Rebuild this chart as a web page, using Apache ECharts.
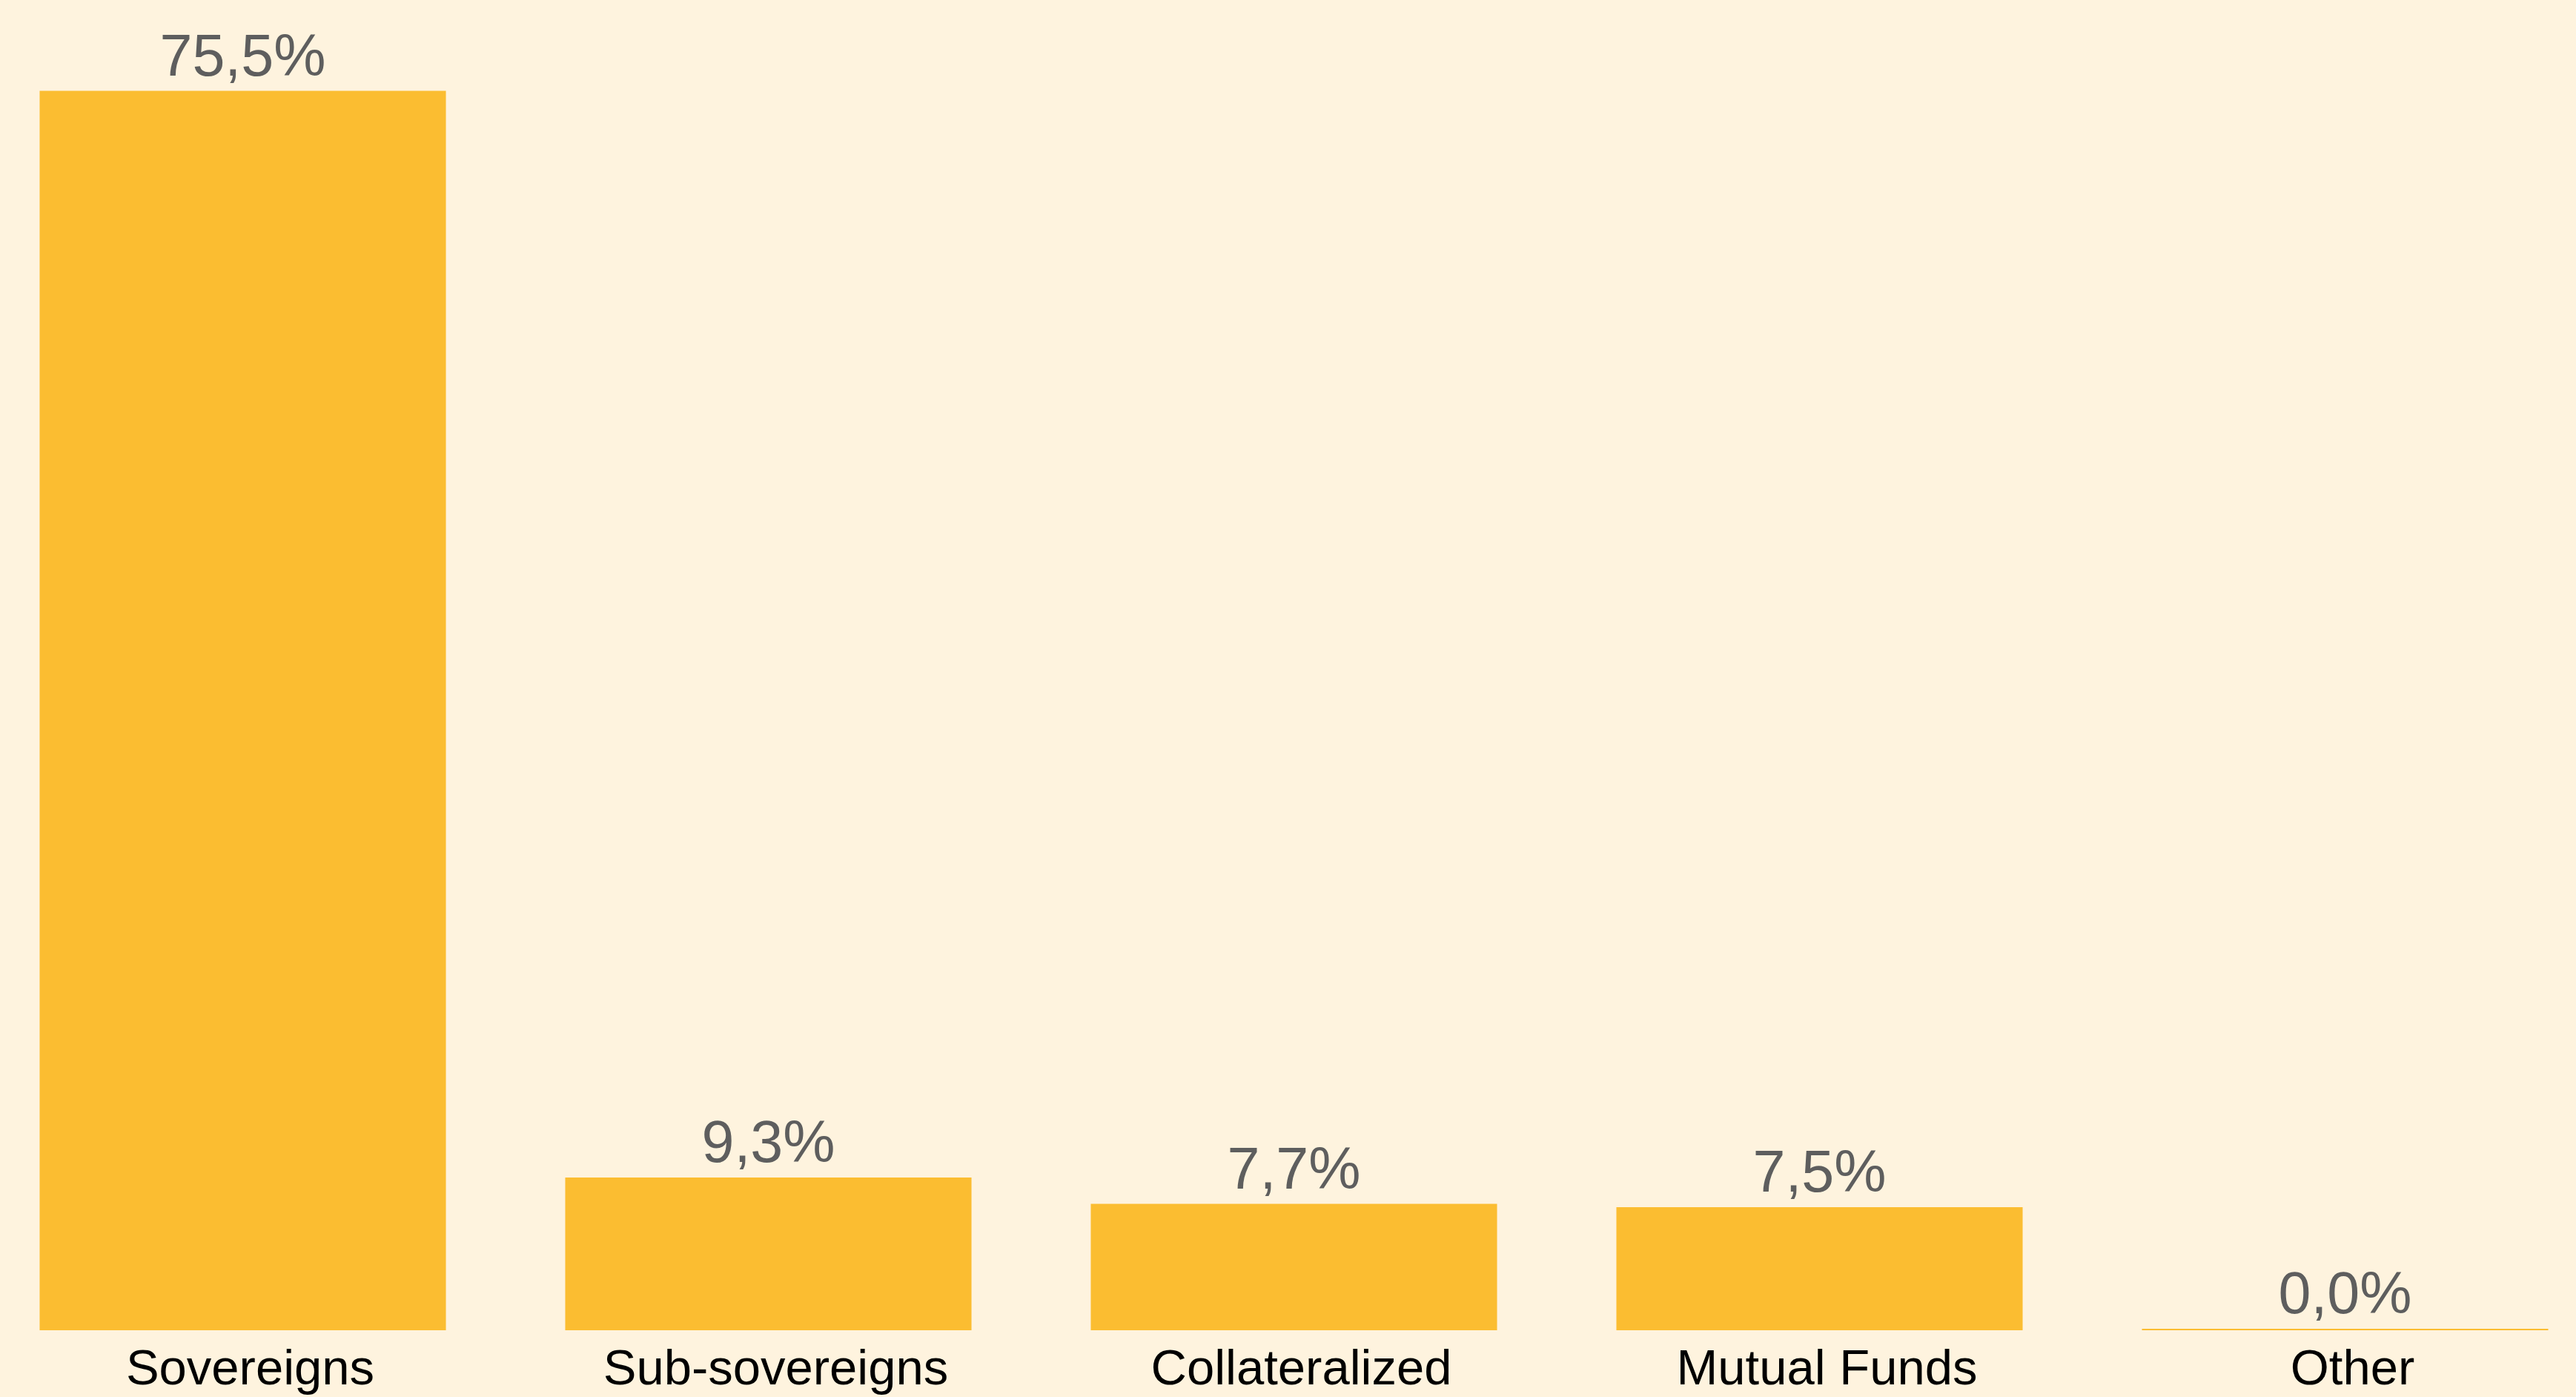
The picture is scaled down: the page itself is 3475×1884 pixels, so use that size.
<!DOCTYPE html>
<html>
<head>
<meta charset="utf-8">
<title>Portfolio breakdown</title>
<script src="https://cdn.jsdelivr.net/npm/echarts@6/dist/echarts.min.js"></script>
<style>
  html, body { margin: 0; padding: 0; background: #FEF3DE; }
  #chart { width: 3475px; height: 1884px; }
</style>
</head>
<body>
<div id="chart"></div>
<script>
// Portfolio breakdown by asset type, in percent
const categories = ['Sovereigns', 'Sub-sovereigns', 'Collateralized', 'Mutual Funds', 'Other'];
const shares = [75.5, 9.3, 7.7, 7.5, 0.0];

const fontFamily = '"Liberation Sans", Arial, Helvetica, sans-serif';
const fmtPct = v => v.toFixed(1).replace('.', ',') + '%';

const chart = echarts.init(document.getElementById('chart'), null, { renderer: 'canvas' });
chart.setOption({
  backgroundColor: '#FEF3DE',
  animation: false,
  grid: {
    left: -27,
    width: 3545,
    top: 23,
    bottom: 90,
    containLabel: false,
    outerBoundsMode: 'none'
  },
  xAxis: {
    type: 'category',
    data: categories,
    axisLine: { show: false },
    axisTick: { show: false },
    splitLine: { show: false },
    axisLabel: {
      color: '#000000',
      fontFamily: fontFamily,
      fontSize: 67,
      margin: 21,
      padding: [0, 0, 0, 20]
    }
  },
  yAxis: {
    type: 'value',
    min: 0,
    max: 80,
    show: false,
    splitLine: { show: false }
  },
  series: [{
    type: 'bar',
    data: shares,
    barWidth: '77.3%',
    barMinHeight: 2,
    itemStyle: { color: '#FBBD31' },
    label: {
      show: true,
      position: 'top',
      distance: 3,
      color: '#5E5E5E',
      fontFamily: fontFamily,
      fontSize: 79,
      formatter: p => fmtPct(p.value)
    }
  }]
});
</script>
</body>
</html>
